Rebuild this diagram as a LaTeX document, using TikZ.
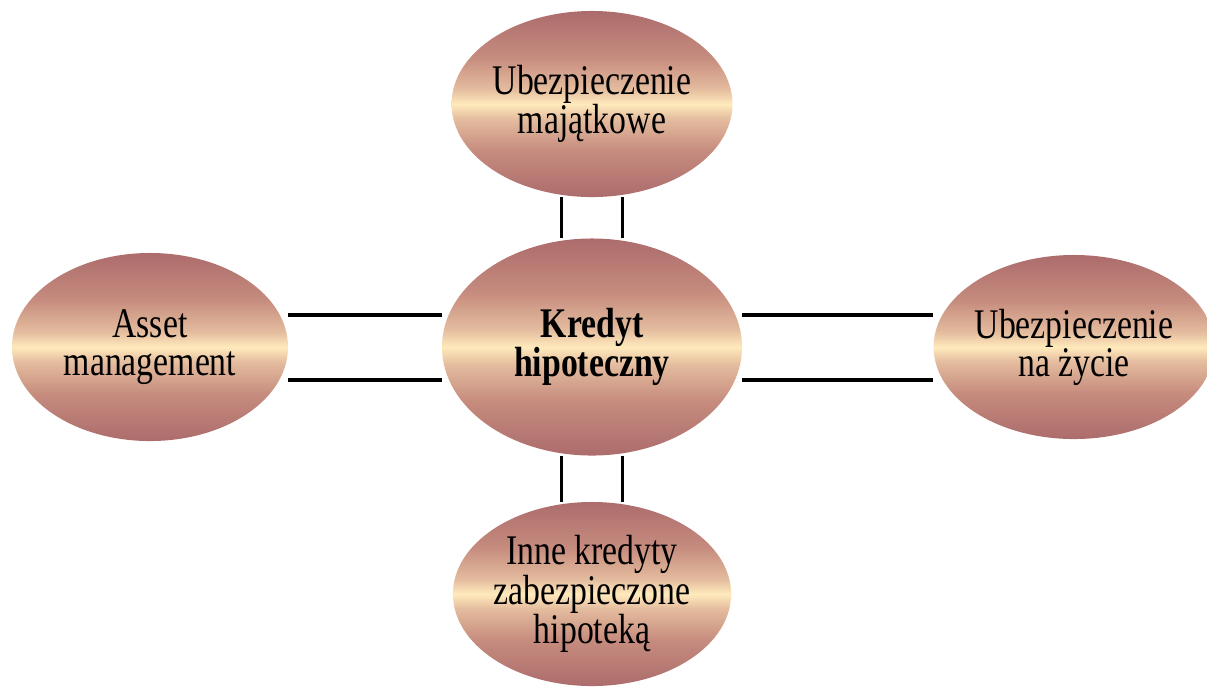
\documentclass[tikz,border=0pt]{standalone}
\usepackage{fontspec}
\setmainfont{Liberation Serif}[FakeStretch=0.8]
\usepackage{tikz}
\usetikzlibrary{shapes, positioning, calc, backgrounds}
\definecolor{rim}{RGB}{172,108,108}
\definecolor{dusk}{RGB}{198,140,126}
\definecolor{blush}{RGB}{228,188,158}
\definecolor{glow}{RGB}{255,234,188}
\pgfdeclareverticalshading{band}{100bp}{color(0bp)=(rim); color(25bp)=(rim); color(37.5bp)=(dusk);
    color(46bp)=(blush); color(50bp)=(glow); color(54bp)=(blush); color(62.5bp)=(dusk);
    color(75bp)=(rim); color(100bp)=(rim)}

\begin{document}
\begin{tikzpicture}
            [x=0.025cm, y=-0.025cm,
            bubble/.style={ellipse, inner sep=0pt, align=center, shading=band,
                font=\fontsize{30}{27}\selectfont},
            link/.style={line width=2.4pt, black}]
            \useasboundingbox (0,0) rectangle (1207,687);
            \node[bubble, minimum width=7.5cm, minimum height=5.425cm, font=\fontsize{30}{27}\selectfont\bfseries]
                (kredyt) at (592,347) {Kredyt\\hipoteczny};
            \node[bubble, minimum width=6.85cm, minimum height=4.65cm]
                (majatek) at (592,104) {Ubezpieczenie\\majątkowe};
            \node[bubble, minimum width=6.9cm, minimum height=4.7cm]
                (asset) at (150,347) {Asset\\management};
            \node[bubble, minimum width=6.6cm, minimum height=4.6cm]
                (zycie) at (1074,347) {Ubezpieczenie\\na życie};
            \node[bubble, minimum width=6.85cm, minimum height=4.6cm]
                (inne) at (592,594) {Inne kredyty\\zabezpieczone\\hipoteką};
            \begin{scope}[on background layer]
                \foreach \d in {-0.76cm, 0.76cm} {
                    \draw[link] ([xshift=\d]majatek.south) -- ([xshift=\d]kredyt.north);
                    \draw[link] ([xshift=\d]kredyt.south) -- ([xshift=\d]inne.north);
                }
                \foreach \d in {-0.825cm, 0.8cm} {
                    \draw[link] ([yshift=\d]asset.east) -- ([yshift=\d]kredyt.west);
                    \draw[link] ([yshift=\d]kredyt.east) -- ([yshift=\d]zycie.west);
                }
            \end{scope}
        \end{tikzpicture}
\end{document}
